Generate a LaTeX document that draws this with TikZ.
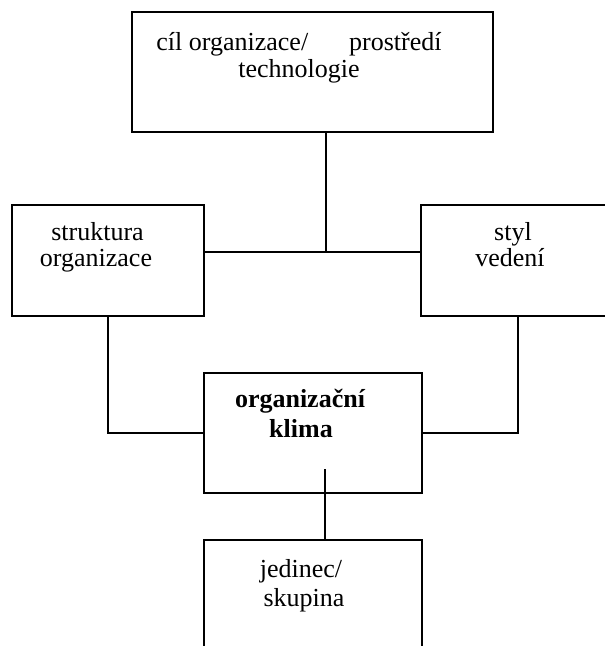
\documentclass[tikz,border=0pt]{standalone}
\usepackage{fontspec}
\setmainfont{Liberation Serif}
\begin{document}
\begin{tikzpicture}[x=1pt,y=-1pt,
  box/.style={draw=black,line width=1.8pt,rectangle,inner sep=0pt,fill=none},
  lbl/.style={anchor=base,inner sep=0pt,font=\fontsize{26}{27}\selectfont},
  blbl/.style={anchor=base,inner sep=0pt,font=\fontsize{26}{27}\selectfont\bfseries},
  conn/.style={draw=black,line width=1.8pt}]
\path[use as bounding box] (0,0) rectangle (605,646);
\clip (0,0) rectangle (605,646);
% boxes
\node[box,minimum width=361pt,minimum height=120pt] (top) at (312.5,72) {};
\node[box,minimum width=192pt,minimum height=111pt] (left) at (108,260.5) {};
\node[box,minimum width=194pt,minimum height=111pt] (right) at (518,260.5) {};
\node[box,minimum width=218pt,minimum height=120pt] (center) at (313,433) {};
\node[box,minimum width=218pt,minimum height=120pt] (bottom) at (313,600) {};
% labels
\node[lbl] (t1) at (299,50) {cíl organizace/\hspace{41pt}prostředí};
\node[lbl] (t2) at (299,77) {technologie};
\node[lbl] (l1) at (97.5,240) {struktura};
\node[lbl] (l2) at (96,266) {organizace};
\node[lbl] (r1) at (513,240) {styl};
\node[lbl] (r2) at (510,266) {vedení};
\node[blbl] (c1) at (300,407) {organizační};
\node[blbl] (c2) at (301,437) {klima};
\node[lbl] (b1) at (301,577) {jedinec/};
\node[lbl] (b2) at (304,606) {skupina};
% connectors
\coordinate (j) at (326,252);
\coordinate (cin) at (325,469);
\draw[conn] (j |- top.south) -- (j);
\draw[conn] (left.east |- j) -- (right.west |- j);
\draw[conn] (left.south) |- (center.west);
\draw[conn] (right.south) |- (center.east);
\draw[conn] (cin) -- (cin |- bottom.north);
\end{tikzpicture}
\end{document}
